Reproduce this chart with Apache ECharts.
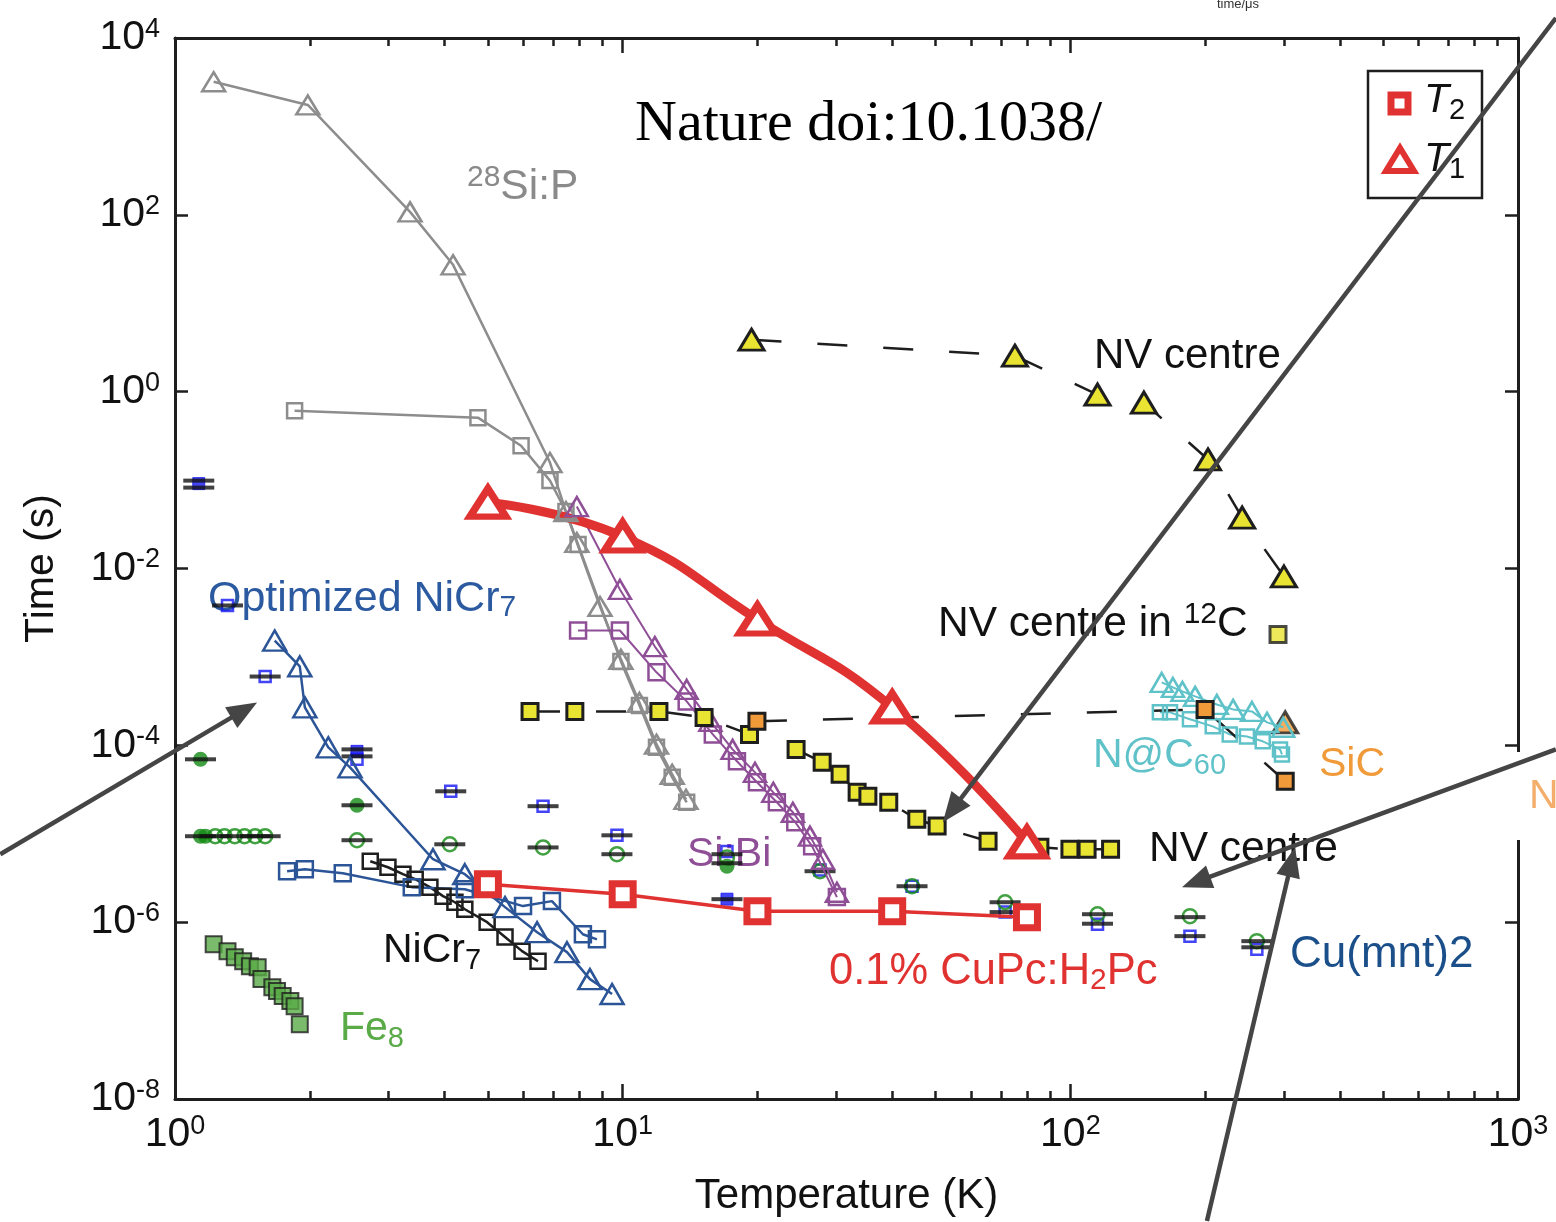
<!DOCTYPE html>
<html>
<head>
<meta charset="utf-8">
<title>Spin relaxation and coherence times versus temperature</title>
<script src="https://cdn.jsdelivr.net/npm/echarts@6.0.0/dist/echarts.min.js"></script>
<style>
  html, body { margin: 0; padding: 0; background: #ffffff; }
  #chart { width: 1556px; height: 1222px; }
</style>
</head>
<body>
<div id="chart"></div>
<script>
// Each point is [temperature (K), time (s)]. T1 = relaxation time, T2 = coherence time.

// 28Si:P
const siP_T1 = [[1.22, 3200], [1.98, 1750], [3.35, 108], [4.18, 27.2], [6.88, 0.158], [7.47, 0.0441],
  [7.90, 0.0197], [8.90, 0.00372], [9.91, 9.4e-4], [10.9, 3.06e-4], [11.9, 1.03e-4], [12.9, 4.7e-5], [13.85, 2.45e-5]];
const siP_T2 = [[1.85, 0.61], [4.75, 0.508], [5.93, 0.245], [6.88, 0.0987], [7.47, 0.0441], [7.95, 0.0187],
  [9.91, 8.9e-4], [10.9, 2.83e-4], [11.9, 9.5e-5], [12.9, 4.35e-5], [13.9, 2.27e-5]];

// Si:Bi
const siBi_T1 = [[7.90, 0.0502], [9.86, 0.0058], [11.8, 0.00131], [13.9, 4.29e-4], [15.7, 1.87e-4], [17.6, 9.0e-5],
  [19.75, 4.95e-5], [21.7, 2.94e-5], [24.0, 1.75e-5], [26.2, 9.4e-6], [28.0, 5.15e-6], [30.1, 2.18e-6]];
const siBi_T2 = [[7.95, 0.00199], [9.86, 0.00199], [11.9, 6.7e-4], [13.9, 3.14e-4], [15.9, 1.33e-4], [18.0, 6.6e-5],
  [19.95, 3.82e-5], [22.1, 2.27e-5], [24.3, 1.35e-5], [26.5, 7.2e-6], [30.1, 1.92e-6]];

// 0.1% CuPc:H2Pc
const cuPc_temps = [5, 10, 20, 40, 80];
const cuPc_T1 = [0.0557, 0.0230, 0.00265, 2.69e-4, 8.0e-6];
const cuPc_T2 = [2.69e-6, 2.07e-6, 1.33e-6, 1.33e-6, 1.14e-6];

// NV centre in diamond
const nv_T1 = [[19.4, 3.87], [75.2, 2.55], [115, 0.925], [146, 0.751], [203, 0.171], [242, 0.0377], [300, 0.00812]];
const nv_T2 = [[6.21, 2.42e-4], [7.82, 2.42e-4], [12.05, 2.42e-4], [15.2, 2.07e-4], [19.2, 1.33e-4], [24.4, 9.0e-5],
  [27.9, 6.43e-5], [30.6, 4.7e-5], [33.4, 2.94e-5], [35.3, 2.65e-5], [39.3, 2.27e-5], [45.4, 1.46e-5],
  [50.4, 1.22e-5], [65.5, 8.23e-6], [85.5, 7.04e-6], [99.8, 6.68e-6], [109, 6.68e-6], [123, 6.68e-6]];
const nv12C_T2 = [[291, 0.00179]];

// SiC
const siC_T2 = [[19.95, 1.87e-4], [200, 2.55e-4], [302, 3.92e-5]];
const siC_T1 = [[302, 1.82e-4]];

// N@C60
const nc60_T1 = [[160, 5.15e-4], [169.5, 4.52e-4], [178, 4.07e-4], [190, 3.58e-4], [212.5, 2.9e-4], [231, 2.55e-4],
  [254.5, 2.42e-4], [275, 1.82e-4], [299, 1.6e-4]];
const nc60_T2 = [[158.5, 2.36e-4], [167, 2.36e-4], [185, 1.97e-4], [208, 1.64e-4], [227, 1.33e-4], [248, 1.26e-4],
  [269, 1.11e-4], [294, 9.0e-5], [297, 7.9e-5]];

// Optimized NiCr7
const optNiCr7_T1 = [[1.67, 0.00153], [1.90, 7.8e-4], [1.95, 2.69e-4], [2.20, 9.5e-5], [2.46, 5.64e-5], [3.77, 5.15e-6],
  [4.44, 3.49e-6], [5.46, 1.48e-6], [6.44, 7.7e-7], [7.51, 4.58e-7], [8.45, 2.27e-7], [9.47, 1.54e-7]];
const optNiCr7_T2 = [[1.78, 3.77e-6], [1.95, 3.97e-6], [2.37, 3.58e-6], [3.38, 2.49e-6], [4.44, 2.36e-6],
  [5.99, 1.52e-6], [6.95, 1.73e-6], [8.15, 7.3e-7], [8.76, 6.4e-7]];

// NiCr7
const niCr7_T2 = [[2.73, 4.89e-6], [2.99, 4.18e-6], [3.23, 3.49e-6], [3.44, 3.06e-6], [3.71, 2.49e-6], [3.97, 1.97e-6],
  [4.22, 1.68e-6], [4.44, 1.40e-6], [4.98, 1.0e-6], [5.46, 6.8e-7], [5.96, 4.7e-7], [6.47, 3.62e-7]];

// Fe8
const fe8_T2 = [[1.22, 5.64e-7], [1.31, 4.7e-7], [1.36, 4.02e-7], [1.42, 3.62e-7], [1.47, 3.18e-7], [1.53, 3.1e-7],
  [1.56, 2.27e-7], [1.65, 1.84e-7], [1.69, 1.66e-7], [1.74, 1.46e-7], [1.81, 1.28e-7], [1.85, 1.12e-7], [1.90, 7.0e-8]];

// Cu(mnt)2 points with their error-bar caps
const cuMnt_T2 = [[1.31, 0.00382], [1.59, 6.0e-4], [2.55, 6.95e-5], [4.13, 3.02e-5], [6.64, 2.05e-5], [9.71, 9.6e-6],
  [17.1, 6.3e-6], [27.6, 3.9e-6], [44.3, 2.55e-6], [71.5, 1.30e-6], [115, 9.5e-7], [185, 6.95e-7], [261, 4.95e-7]];
const cuMnt_T2_solid = [[1.13, 0.0912], [2.55, 8.55e-5], [17.1, 1.82e-6]];
const cuMnt_T1 = [[1.23, 9.38e-6], [1.29, 9.38e-6], [1.36, 9.38e-6], [1.43, 9.38e-6], [1.51, 9.38e-6], [1.59, 9.38e-6],
  [2.55, 8.45e-6], [4.11, 7.6e-6], [6.64, 7.0e-6], [9.71, 5.87e-6], [17.1, 5.4e-6], [27.6, 3.77e-6], [44.3, 2.55e-6],
  [71.5, 1.68e-6], [115, 1.23e-6], [185, 1.17e-6], [261, 6.1e-7]];
const cuMnt_T1_solid = [[1.14, 6.95e-5], [1.14, 9.38e-6], [1.17, 9.38e-6], [2.55, 2.1e-5], [17.1, 4.3e-6]];
const cuMnt_caps = [[1.13, 0.0986], [1.13, 0.0822], [1.31, 0.00382], [1.59, 6.0e-4], [1.14, 6.95e-5],
  [1.14, 9.38e-6], [1.23, 9.38e-6], [1.36, 9.38e-6], [1.51, 9.38e-6], [1.59, 9.38e-6],
  [2.55, 9.0e-5], [2.55, 7.5e-5], [2.55, 2.1e-5], [2.55, 8.45e-6], [4.13, 3.02e-5], [4.11, 7.6e-6],
  [6.64, 2.05e-5], [6.64, 7.0e-6], [9.71, 9.6e-6], [9.71, 5.87e-6], [17.1, 5.87e-6], [17.1, 4.64e-6], [17.1, 1.82e-6],
  [27.6, 3.77e-6], [44.3, 2.55e-6], [71.5, 1.68e-6], [71.5, 1.30e-6], [115, 1.23e-6], [115, 9.6e-7],
  [185, 1.14e-6], [185, 6.95e-7], [261, 6.1e-7], [261, 5.2e-7]];

// Annotation arrows, tail and head in [K, s]
const arrowLinks = [
  { from: [0.407, 5.87e-6], to: [1.525, 3.06e-4] },
  { from: [1215, 16830], to: [51.9, 1.35e-5] },
  { from: [1215, 9.01e-5], to: [177.6, 2.49e-6] },
  { from: [201.9, 4.18e-10], to: [317.6, 7.04e-6] }
];

const SANS = '"Liberation Sans", Arial, Helvetica, sans-serif';
const SERIF = '"Liberation Serif", "Times New Roman", serif';
const COL = {
  red: '#e03230', gray: '#8d8d8d', purple: '#8f4f97', navy: '#2c5597', black: '#1e1e1e',
  fe: '#5aab47', yellow: '#e9e331', orange: '#f09a3a', cyan: '#5fc2c9', blue: '#1515f5', green: '#138a13'
};

const chart = echarts.init(document.getElementById('chart'), null, { renderer: 'canvas' });

const hollow = (c, w) => ({ color: 'rgba(255,255,255,0)', borderColor: c, borderWidth: w });
const filled = (c, w) => ({ color: c, borderColor: COL.black, borderWidth: w });

function line(name, data, symbol, size, itemStyle, lineStyle, extra) {
  return Object.assign({
    type: 'line', name, data, symbol, symbolSize: size, itemStyle, lineStyle,
    showSymbol: true, silent: true, animation: false, emphasis: { disabled: true }
  }, extra || {});
}
function dots(name, data, symbol, size, itemStyle, extra) {
  return Object.assign({
    type: 'scatter', name, data, symbol, symbolSize: size, itemStyle,
    silent: true, animation: false, emphasis: { disabled: true }
  }, extra || {});
}

const dashed = { color: COL.black, width: 2.5, type: [30, 36] };
const pair = (xs, ys) => xs.map((x, i) => [x, ys[i]]);

const series = [
  dots('Cu(mnt)2 T2', cuMnt_T2, 'rect', 11, hollow(COL.blue, 2.5)),
  dots('Cu(mnt)2 T2 solid', cuMnt_T2_solid, 'rect', 12, { color: COL.blue, borderColor: COL.blue, borderWidth: 1 }),
  dots('Cu(mnt)2 T1', cuMnt_T1, 'circle', 14, hollow(COL.green, 2.5)),
  dots('Cu(mnt)2 T1 solid', cuMnt_T1_solid, 'circle', 15, { color: COL.green }),
  dots('Cu(mnt)2 caps', cuMnt_caps, 'rect', [31, 4], { color: '#111' }),

  dots('Fe8 T2', fe8_T2, 'rect', 16, filled(COL.fe, 2)),
  line('NiCr7 T2', niCr7_T2, 'rect', 15, hollow(COL.black, 2.5), { color: COL.black, width: 2.5 }),
  line('Optimized NiCr7 T2', optNiCr7_T2, 'rect', 16, hollow(COL.navy, 2.5), { color: COL.navy, width: 2.5 }),
  line('Optimized NiCr7 T1', optNiCr7_T1, 'triangle', [23, 20], hollow(COL.navy, 2.5), { color: COL.navy, width: 2.5 }),

  line('Si:P T2', siP_T2, 'rect', 15, hollow(COL.gray, 2.5), { color: COL.gray, width: 2.5 }),
  line('Si:P T1', siP_T1, 'triangle', [23, 19], hollow(COL.gray, 2.5), { color: COL.gray, width: 2.5 }),
  line('Si:Bi T2', siBi_T2, 'rect', 16, hollow(COL.purple, 2.5), { color: COL.purple, width: 2 }),
  line('Si:Bi T1', siBi_T1, 'triangle', [22, 19], hollow(COL.purple, 2.5), { color: COL.purple, width: 2 }),

  line('N@C60 T2', nc60_T2, 'rect', 14, hollow(COL.cyan, 2.5), { color: COL.cyan, width: 2 }),
  line('N@C60 T1', nc60_T1, 'triangle', [22, 19], hollow(COL.cyan, 2.5), { color: COL.cyan, width: 2 }),

  line('NV T2', nv_T2, 'rect', 16, filled(COL.yellow, 3), dashed),
  line('SiC T2', siC_T2, 'rect', 16, filled(COL.orange, 3), dashed),
  line('NV T1', nv_T1, 'triangle', [25, 21], filled(COL.yellow, 3), dashed),
  dots('NV 12C T2', nv12C_T2, 'rect', 16, filled(COL.yellow, 3)),
  dots('SiC T1', siC_T1, 'triangle', [25, 21], filled(COL.orange, 3)),

  line('CuPc T2', pair(cuPc_temps, cuPc_T2), 'rect', 21,
    { color: '#ffffff', borderColor: COL.red, borderWidth: 7 }, { color: COL.red, width: 3.5 }),
  line('CuPc T1', pair(cuPc_temps, cuPc_T1), 'triangle', [36, 28],
    { color: '#ffffff', borderColor: COL.red, borderWidth: 7 }, { color: COL.red, width: 9, cap: 'round', join: 'round' },
    { smooth: 0.5 })
];

const tickRich = {
  b: { fontSize: 41, lineHeight: 44, fontFamily: SANS, color: '#111' },
  s: { fontSize: 27, lineHeight: 28, verticalAlign: 'top', fontFamily: SANS, color: '#111' }
};
const powerLabel = v => '{b|10}{s|' + Math.round(Math.log10(v)) + '}';
const frame = { show: true, onZero: false, lineStyle: { color: COL.black, width: 3 } };
const tickLine = { color: COL.black, width: 2.5 };

const xBase = {
  type: 'log', logBase: 10, min: 1, max: 1000,
  axisLine: frame,
  axisTick: { show: true, inside: true, length: 15, lineStyle: tickLine },
  minorTick: { show: true, splitNumber: 9, length: 8, lineStyle: tickLine },
  splitLine: { show: false }, minorSplitLine: { show: false }
};
const yBase = {
  type: 'log', logBase: 10, min: 1e-8, max: 1e4, interval: 2, splitNumber: 6,
  axisLine: frame,
  axisTick: { show: true, inside: true, length: 13, lineStyle: tickLine },
  splitLine: { show: false }
};

chart.setOption({
  animation: false,
  backgroundColor: '#ffffff',
  grid: { left: 175, right: 38, top: 38, bottom: 122 },
  xAxis: [
    Object.assign({}, xBase, {
      position: 'bottom',
      name: 'Temperature (K)', nameLocation: 'middle', nameGap: 76,
      nameTextStyle: { fontSize: 42, fontFamily: SANS, color: '#111' },
      axisLabel: { show: true, margin: 14, formatter: powerLabel, rich: tickRich, hideOverlap: false }
    }),
    Object.assign({}, xBase, { position: 'top', axisLabel: { show: false } })
  ],
  yAxis: [
    Object.assign({}, yBase, {
      position: 'left',
      name: 'Time (s)', nameLocation: 'middle', nameGap: 113, nameRotate: 90,
      nameTextStyle: { fontSize: 41, fontFamily: SANS, color: '#111' },
      axisLabel: { show: true, margin: 15, formatter: powerLabel, rich: tickRich, hideOverlap: false }
    }),
    Object.assign({}, yBase, { position: 'right', axisLabel: { show: false } })
  ],
  series: series.map(s => Object.assign(s, { xAxisIndex: 0, yAxisIndex: 0 }))
});

// ---- annotations: material labels, legend box, title note and arrows ----
function richText(x, y, text, color, size, z) {
  const fs = size || 41;
  const ss = Math.round(fs * 0.7);
  const base = { fill: color, fontFamily: SANS };
  return {
    type: 'text', x, y, z: z == null ? 1 : z, silent: true,
    style: {
      text, fill: color, fontFamily: SANS, fontSize: fs, lineHeight: 48, align: 'left', verticalAlign: 'middle',
      rich: {
        sup: Object.assign({ fontSize: ss, lineHeight: 30, verticalAlign: 'top' }, base),
        sub: Object.assign({ fontSize: ss, lineHeight: 12, verticalAlign: 'bottom' }, base),
        it: Object.assign({ fontSize: fs, lineHeight: 48, fontStyle: 'italic' }, base),
        lsub: Object.assign({ fontSize: ss, lineHeight: 16, verticalAlign: 'bottom' }, base)
      }
    }
  };
}

const labels = [
  richText(467, 187, '{sup|28}Si:P', '#8a8a8a', 42.5),
  richText(1094, 356, 'NV centre', '#111111', 42),
  richText(938, 624, 'NV centre in {sup|12}C', '#111111', 42.5),
  richText(208, 599, 'Optimized NiCr{sub|7}', '#2c5aa0', 43),
  richText(1093, 756, 'N@C{sub|60}', '#5fc2c9', 41),
  richText(1319, 765, 'SiC', '#f09a3a', 41),
  richText(1149, 849, 'NV centre', '#111111', 42.5),
  richText(1290, 955, 'Cu(mnt)2', '#1a4f8a', 44),
  richText(687, 855, 'Si:Bi', '#8f4f97', 41),
  richText(383, 951, 'NiCr{sub|7}', '#111111', 41),
  richText(829, 972, '0.1% CuPc:H{sub|2}Pc', '#e03230', 43.5),
  richText(340, 1029, 'Fe{sub|8}', '#5aab47', 41)
];

const legendEls = [
  { type: 'rect', z: 50, silent: true, shape: { x: 1368, y: 71, width: 114, height: 127 },
    style: { fill: '#ffffff', stroke: COL.black, lineWidth: 2.5 } },
  { type: 'rect', z: 51, silent: true, shape: { x: 1391, y: 95, width: 17, height: 17 },
    style: { fill: '#ffffff', stroke: COL.red, lineWidth: 7 } },
  { type: 'polygon', z: 51, silent: true, shape: { points: [[1386, 171], [1414, 171], [1400, 148]] },
    style: { fill: '#ffffff', stroke: COL.red, lineWidth: 6, lineJoin: 'miter' } },
  richText(1424, 101, '{it|T}{lsub|2}', '#111111', 41, 52),
  richText(1424, 160, '{it|T}{lsub|1}', '#111111', 41, 52)
];

const noteEls = [
  { type: 'text', x: 635, y: 125, z: 40, silent: true,
    style: { text: 'Nature doi:10.1038/', fontFamily: SERIF, fontSize: 58, fill: '#000000', verticalAlign: 'middle' } },
  { type: 'text', x: 1238, y: 4, z: 40, silent: true,
    style: { text: 'time/μs', fontFamily: SANS, fontSize: 13, fill: '#333333', align: 'center', verticalAlign: 'middle' } },
  { type: 'rect', z: 60, silent: true, shape: { x: 1504, y: 752, width: 52, height: 88 }, style: { fill: '#ffffff' } },
  { type: 'text', x: 1529, y: 797, z: 61, silent: true,
    style: { text: 'N', fontFamily: SANS, fontSize: 41, fill: '#f0a050', verticalAlign: 'middle', opacity: 0.85 } }
];

const arrowEls = [];
arrowLinks.forEach(a => {
  const p0 = chart.convertToPixel({ seriesIndex: 0 }, a.from);
  const p1 = chart.convertToPixel({ seriesIndex: 0 }, a.to);
  const dx = p1[0] - p0[0], dy = p1[1] - p0[1];
  const len = Math.hypot(dx, dy), ux = dx / len, uy = dy / len;
  const headL = 30, headW = 12;
  const bx = p1[0] - ux * headL, by = p1[1] - uy * headL;
  arrowEls.push({ type: 'line', z: 70, silent: true,
    shape: { x1: p0[0], y1: p0[1], x2: bx + ux * 2, y2: by + uy * 2 },
    style: { stroke: '#454545', lineWidth: 4.5 } });
  arrowEls.push({ type: 'polygon', z: 70, silent: true,
    shape: { points: [[p1[0], p1[1]], [bx - uy * headW, by + ux * headW], [bx + uy * headW, by - ux * headW]] },
    style: { fill: '#454545' } });
});

chart.setOption({ graphic: { elements: labels.concat(legendEls, noteEls, arrowEls) } });
</script>
</body>
</html>
